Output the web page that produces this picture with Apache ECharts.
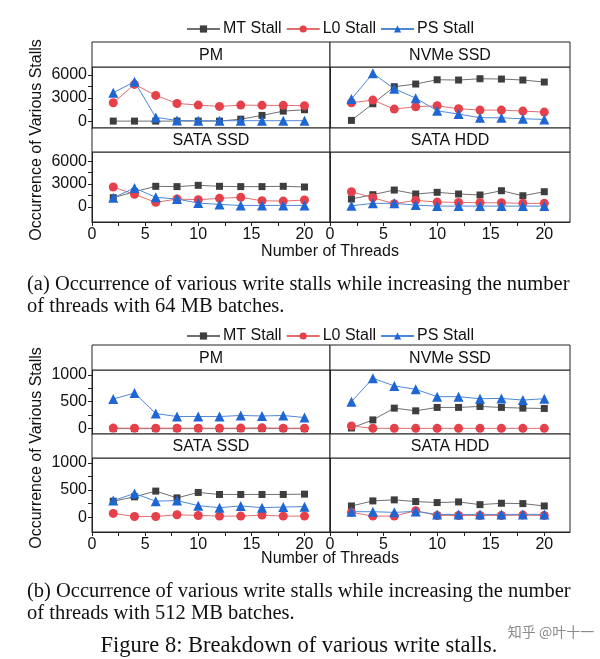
<!DOCTYPE html>
<html>
<head>
<meta charset="utf-8">
<script src="https://cdn.jsdelivr.net/npm/echarts@6/dist/echarts.min.js"></script>
<style>
html,body{margin:0;padding:0;background:#fff;}
#c{width:600px;height:659px;}
</style>
</head>
<body>
<div id="c"></div>
<script>
// ---- data ----
const threads = [2, 4, 6, 8, 10, 12, 14, 16, 18, 20];
const seriesNames = ['MT Stall', 'L0 Stall', 'PS Stall'];
const panelNames = ['PM', 'NVMe SSD', 'SATA SSD', 'SATA HDD'];
const xTickLabels = [0, 5, 10, 15, 20];
const yTickLabelsA = [0, 3000, 6000];
const yTickLabelsB = [0, 500, 1000];

// (a) 64 MB batches
const a_PM_MT   = [0, 0, 0, 0, 0, 0, 250, 740, 1300, 1480];
const a_PM_L0   = [2390, 4780, 3350, 2300, 2090, 1910, 2090, 2050, 2050, 2000];
const a_PM_PS   = [3700, 5130, 480, 90, 50, 50, 50, 50, 50, 50];
const a_NVMe_MT = [90, 2260, 4480, 4830, 5390, 5350, 5520, 5480, 5350, 5090];
const a_NVMe_L0 = [2390, 2740, 1565, 1870, 2000, 1610, 1435, 1435, 1300, 1170];
const a_NVMe_PS = [2870, 6220, 4220, 2990, 1350, 910, 440, 430, 300, 220];
const a_SSD_MT  = [1190, 1980, 2690, 2650, 2820, 2690, 2650, 2650, 2690, 2600];
const a_SSD_L0  = [2600, 1640, 580, 1020, 925, 1110, 1240, 790, 750, 885];
const a_SSD_PS  = [1190, 2470, 1240, 1020, 490, 310, 180, 180, 180, 180];
const a_HDD_MT  = [1020, 1590, 2200, 1680, 1900, 1680, 1550, 2110, 1450, 1980];
const a_HDD_L0  = [1980, 1190, 400, 845, 620, 575, 530, 530, 450, 450];
const a_HDD_PS  = [130, 450, 450, 225, 90, 90, 90, 90, 90, 90];

// (b) 512 MB batches
const b_PM_MT   = [0, 0, 0, 0, 0, 0, 0, 0, 0, 0];
const b_PM_L0   = [10, 8, 8, 8, 8, 8, 10, 15, 8, 8];
const b_PM_PS   = [550, 662, 281, 225, 225, 225, 244, 235, 244, 206];
const b_NVMe_MT = [12, 162, 381, 331, 394, 394, 412, 394, 381, 375];
const b_NVMe_L0 = [50, 5, 5, 5, 5, 5, 5, 5, 5, 5];
const b_NVMe_PS = [500, 937, 794, 731, 594, 594, 556, 562, 531, 556];
const b_SSD_MT  = [294, 375, 481, 356, 456, 419, 419, 419, 419, 425];
const b_SSD_L0  = [69, 12, 12, 44, 31, 19, 19, 37, 19, 19];
const b_SSD_PS  = [306, 437, 294, 306, 212, 175, 206, 175, 187, 194];
const b_HDD_MT  = [206, 300, 319, 288, 269, 281, 231, 256, 250, 206];
const b_HDD_L0  = [88, 19, 19, 119, 31, 31, 31, 31, 37, 31];
const b_HDD_PS  = [100, 100, 88, 106, 50, 50, 50, 50, 50, 50];

// ---- layout ----
const SANS = 'Liberation Sans, Arial, Helvetica, sans-serif';
const SERIF = 'Liberation Serif, Times New Roman, serif';

const panels = [
  {g:{left:92, top:67, width:238, height:61}, y:[-900, 7050], lab:'A', xlab:false, ylab:true,  title:panelNames[0], data:[a_PM_MT, a_PM_L0, a_PM_PS]},
  {g:{left:330, top:67, width:240, height:61}, y:[-900, 7050], lab:'A', xlab:false, ylab:false, title:panelNames[1], data:[a_NVMe_MT, a_NVMe_L0, a_NVMe_PS]},
  {g:{left:92, top:152, width:238, height:70}, y:[-2000, 7200], lab:'A', xlab:true, ylab:true,  title:panelNames[2], data:[a_SSD_MT, a_SSD_L0, a_SSD_PS]},
  {g:{left:330, top:152, width:240, height:70}, y:[-2000, 7200], lab:'A', xlab:true, ylab:false, title:panelNames[3], data:[a_HDD_MT, a_HDD_L0, a_HDD_PS]},
  {g:{left:92, top:370, width:238, height:64}, y:[-100, 1090], lab:'B', xlab:false, ylab:true,  title:panelNames[0], data:[b_PM_MT, b_PM_L0, b_PM_PS]},
  {g:{left:330, top:370, width:240, height:64}, y:[-100, 1090], lab:'B', xlab:false, ylab:false, title:panelNames[1], data:[b_NVMe_MT, b_NVMe_L0, b_NVMe_PS]},
  {g:{left:92, top:458, width:238, height:74}, y:[-275, 1093], lab:'B', xlab:true, ylab:true,  title:panelNames[2], data:[b_SSD_MT, b_SSD_L0, b_SSD_PS]},
  {g:{left:330, top:458, width:240, height:74}, y:[-275, 1093], lab:'B', xlab:true, ylab:false, title:panelNames[3], data:[b_HDD_MT, b_HDD_L0, b_HDD_PS]}
];

const styles = [
  {symbol:'rect', size:7, color:'#3e3e3e', line:'#707070'},
  {symbol:'circle', size:9, color:'#e6404a', line:'#e07070'},
  {symbol:'triangle', size:10, color:'#1e66d4', line:'#5088d8'}
];

const grid = [], xAxis = [], yAxis = [], series = [], graphic = [];

panels.forEach((p, i) => {
  grid.push(Object.assign({show:true, borderColor:'#222', borderWidth:1, backgroundColor:'#fff'}, p.g));
  const ticksY = p.lab === 'A' ? [0, 1500, 3000, 4500, 6000] : [0, 250, 500, 750, 1000];
  const labsY = p.lab === 'A' ? yTickLabelsA : yTickLabelsB;
  xAxis.push({
    type:'value', gridIndex:i, min:0, max:22.4,
    axisLine:{show:true, onZero:false, lineStyle:{color:'#222', width:1}},
    axisTick:{show:p.xlab, length:4, lineStyle:{color:'#222'}, customValues:[0,2.5,5,7.5,10,12.5,15,17.5,20]},
    axisLabel:{show:p.xlab, customValues:xTickLabels, fontSize:16, fontFamily:SANS, color:'#111', margin:5,
      formatter:(v) => String(v)},
    splitLine:{show:false}
  });
  yAxis.push({
    type:'value', gridIndex:i, min:p.y[0], max:p.y[1],
    axisLine:{show:true, onZero:false, lineStyle:{color:'#222', width:1}},
    axisTick:{show:p.ylab, length:4, lineStyle:{color:'#222'}, customValues:ticksY},
    axisLabel:{show:p.ylab, customValues:labsY, fontSize:16, fontFamily:SANS, color:'#111', margin:5,
      formatter:(v) => String(v)},
    splitLine:{show:false}
  });
  p.data.forEach((arr, k) => {
    const s = styles[k];
    series.push({
      type:'line', name:seriesNames[k], xAxisIndex:i, yAxisIndex:i,
      data: threads.map((t, j) => [t, arr[j]]),
      symbol:s.symbol, symbolSize:s.size, showAllSymbol:true,
      itemStyle:{color:s.color},
      lineStyle:{color:s.line, width:1},
      z: 2 + k, animation:false
    });
  });
  const g = p.g;
  const stripH = (i === 0 || i === 1 || i === 4 || i === 5) ? 25 : 24;
  graphic.push({type:'rect', shape:{x:g.left, y:g.top - stripH, width:g.width, height:stripH},
    style:{fill:'#fff', stroke:'#222', lineWidth:1}, z:10});
  graphic.push({type:'text', x:g.left + g.width / 2, y:g.top - stripH / 2 + 1,
    style:{text:p.title, font:'16px ' + SANS, fill:'#111', align:'center', verticalAlign:'middle', textAlign:'center', textVerticalAlign:'middle'}, z:11});
});

function txt(x, y, text, font, opts) {
  return Object.assign({type:'text', x:x, y:y,
    style:Object.assign({text:text, font:font, fill:'#111', align:'center', verticalAlign:'middle', textAlign:'center', textVerticalAlign:'middle'}, (opts && opts.style) || {}), z:12},
    (opts && opts.el) || {});
}
graphic.push(txt(37, 140, 'Occurrence of Various Stalls', '16px ' + SANS, {el:{rotation:Math.PI / 2}}));
graphic.push(txt(37, 448, 'Occurrence of Various Stalls', '16px ' + SANS, {el:{rotation:Math.PI / 2}}));
graphic.push(txt(330, 252, 'Number of Threads', '16px ' + SANS));
graphic.push(txt(330, 559, 'Number of Threads', '16px ' + SANS));
const capL = {style:{align:'left', textAlign:'left'}};
graphic.push(txt(27, 285, '(a) Occurrence of various write stalls while increasing the number', '20.5px ' + SERIF, capL));
graphic.push(txt(27, 307, 'of threads with 64 MB batches.', '20.5px ' + SERIF, capL));
graphic.push(txt(27, 592, '(b) Occurrence of various write stalls while increasing the number', '20.5px ' + SERIF, capL));
graphic.push(txt(27, 614, 'of threads with 512 MB batches.', '20.5px ' + SERIF, capL));
graphic.push(txt(299, 646, 'Figure 8: Breakdown of various write stalls.', '22.5px ' + SERIF));
graphic.push(txt(551, 632, '知乎 @叶十一', '14px Noto Sans CJK SC, sans-serif', {style:{fill:'#8a8a8a'}}));

const legendBase = {
  data: seriesNames, itemWidth:33, itemHeight:9, itemGap:4, padding:0,
  textStyle:{fontSize:16, fontFamily:SANS, color:'#111', padding:[0,0,0,-2]},
  selectedMode:false
};

const option = {
  animation:false,
  backgroundColor:'#fff',
  legend:[
    Object.assign({}, legendBase, {top:21, left:186}),
    Object.assign({}, legendBase, {top:328, left:186})
  ],
  grid, xAxis, yAxis, series, graphic
};

const chart = echarts.init(document.getElementById('c'), null, {renderer:'canvas'});
chart.setOption(option);
</script>
</body>
</html>
